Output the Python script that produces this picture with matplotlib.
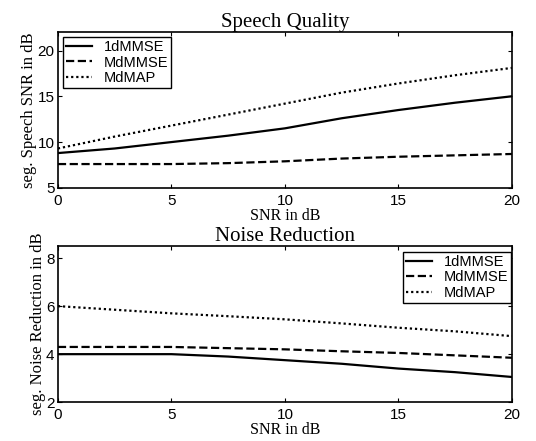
import matplotlib
matplotlib.use("Agg")
import matplotlib.pyplot as plt

# SNR axis values (dB)
snr = [0, 2.5, 5, 7.5, 10, 12.5, 15, 17.5, 20]

# speech quality: segmental speech SNR in dB
sq_1dmmse = [8.8, 9.3, 10.0, 10.7, 11.5, 12.6, 13.5, 14.3, 15.0]
sq_mdmmse = [7.6, 7.6, 7.6, 7.7, 7.9, 8.2, 8.4, 8.55, 8.7]
sq_mdmap = [9.3, 10.6, 11.8, 13.0, 14.2, 15.4, 16.4, 17.3, 18.1]

# noise reduction: segmental noise reduction in dB
nr_1dmmse = [4.0, 4.0, 4.0, 3.9, 3.75, 3.6, 3.4, 3.25, 3.05]
nr_mdmmse = [4.3, 4.3, 4.3, 4.25, 4.2, 4.12, 4.05, 3.95, 3.85]
nr_mdmap = [6.0, 5.85, 5.7, 5.58, 5.45, 5.28, 5.1, 4.95, 4.75]

names = ["1dMMSE", "MdMMSE", "MdMAP"]
styles = ["-", "--", (0, (1, 1.3))]

serif = ["Liberation Serif", "DejaVu Serif"]
sans = ["Liberation Sans", "DejaVu Sans"]

fig = plt.figure(figsize=(5.36, 4.41), dpi=100)
ax1 = fig.add_axes([0.108, 0.574, 0.847, 0.353])
ax2 = fig.add_axes([0.108, 0.088, 0.847, 0.354])

def setup(ax, title, ylabel, ylim, yticks, series, loc, anchor):
    for s, st, n in zip(series, styles, names):
        ax.plot(snr, s, linestyle=st, color="black", lw=1.6, label=n)
    ax.set_xlim(0, 20)
    ax.set_ylim(*ylim)
    ax.set_xticks([0, 5, 10, 15, 20])
    ax.set_yticks(yticks)
    ax.tick_params(direction="in", top=True, right=True, length=3, labelsize=11)
    ax.tick_params(axis="x", pad=4.5)
    ax.tick_params(axis="y", pad=2.5)
    for lab in ax.get_xticklabels() + ax.get_yticklabels():
        lab.set_family(sans)
    for sp in ax.spines.values():
        sp.set_linewidth(1.2)
    ax.set_title(title, family=serif, fontsize=15, pad=4)
    ax.set_xlabel("SNR in dB", family=serif, fontsize=11.5, labelpad=0)
    ax.set_ylabel(ylabel, family=serif, fontsize=12, labelpad=0)
    leg = ax.legend(loc=loc, bbox_to_anchor=anchor, prop={"family": sans, "size": 10.5},
                    fancybox=False, edgecolor="black", framealpha=1,
                    handlelength=1.8, borderpad=0.2, labelspacing=0.1,
                    handletextpad=0.8, borderaxespad=0)
    leg.get_frame().set_linewidth(1.0)

setup(ax1, "Speech Quality", "seg. Speech SNR in dB", (5, 22), [5, 10, 15, 20],
      [sq_1dmmse, sq_mdmmse, sq_mdmap], "upper left", (0.011, 0.968))
setup(ax2, "Noise Reduction", "seg. Noise Reduction in dB", (2, 8.5), [2, 4, 6, 8],
      [nr_1dmmse, nr_mdmmse, nr_mdmap], "upper right", (0.998, 0.962))

fig.savefig("out.png", dpi=100)
